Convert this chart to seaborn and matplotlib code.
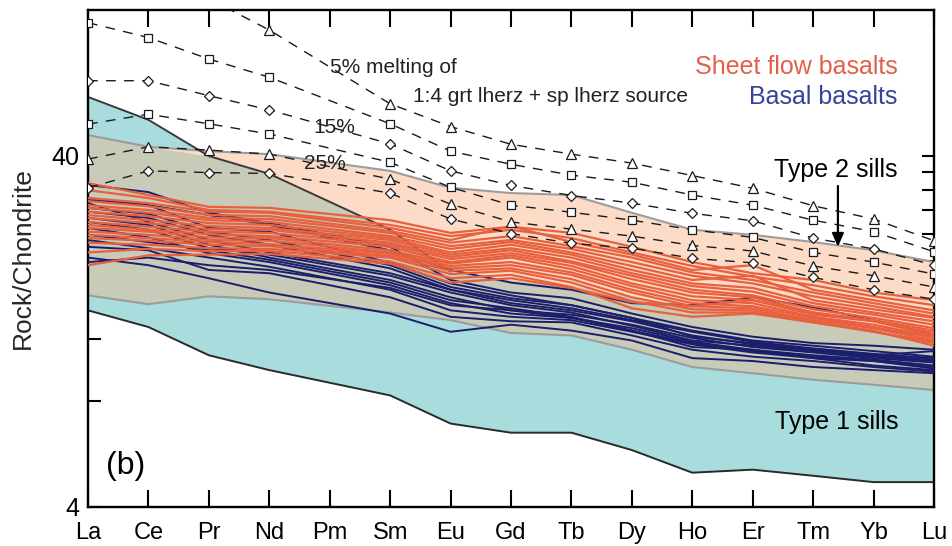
import numpy as np
import pandas as pd
import matplotlib
matplotlib.use("Agg")
import matplotlib.pyplot as plt
import seaborn as sns

# ---------- DATA (chondrite-normalised REE) ----------
elements = ["La", "Ce", "Pr", "Nd", "Pm", "Sm", "Eu", "Gd", "Tb", "Dy", "Ho", "Er", "Tm", "Yb", "Lu"]
measured = ["La", "Ce", "Pr", "Nd", "Sm", "Eu", "Gd", "Tb", "Dy", "Ho", "Er", "Tm", "Yb", "Lu"]

# melting model curves (5% ... 25% melting of 1:4 grt lherz + sp lherz source)
melt_tri_1 = [130.9, 120.1, 112.0, 91.2, 56.2, 48.4, 43.1, 40.4, 38.1, 35.1, 32.3, 28.8, 26.4, 22.9]
melt_sq_1 = [95.7, 86.8, 75.4, 66.9, 49.3, 41.2, 37.8, 35.2, 33.6, 30.9, 28.9, 26.2, 24.3, 21.3]
melt_dia_1 = [65.4, 65.4, 59.3, 54.0, 43.2, 36.2, 32.9, 30.8, 29.3, 27.4, 26.1, 23.3, 21.7, 19.5]
melt_sq_2 = [49.2, 52.5, 49.3, 46.1, 38.3, 32.5, 28.9, 27.6, 26.2, 24.6, 23.4, 21.2, 19.9, 18.4]
melt_tri_2 = [39.1, 42.4, 41.5, 40.4, 34.3, 29.1, 25.9, 24.7, 23.6, 22.2, 21.4, 19.4, 18.2, 16.9]
melt_dia_2 = [32.4, 36.2, 35.8, 35.6, 31.3, 26.4, 24.0, 22.5, 21.8, 20.4, 19.8, 18.0, 16.6, 15.6]

# Type 1 sills field (cyan) and Type 2 sills field (peach)
type1_high = [58.8, 50.6, 39.9, 35.5, 24.6, 18.7, 17.7, 17.1, 15.8, 15.0, 14.5, 13.8, 13.1, 12.3]
type1_low = [14.5, 13.0, 10.8, 9.8, 8.3, 6.9, 6.5, 6.5, 5.8, 5.0, 5.1, 4.9, 4.7, 4.7]
type2_high = [45.8, 42.4, 41.2, 40.4, 36.2, 32.4, 31.3, 30.9, 27.5, 24.6, 23.8, 22.7, 21.5, 19.9]
type2_low = [16.0, 15.1, 15.9, 15.6, 14.3, 13.6, 12.5, 12.3, 11.2, 10.0, 9.6, 9.2, 8.9, 8.6]

# Sheet flow basalts
sheet_flow = [
    [33.4, 30.9, 28.6, 28.4, 26.2, 24.1, 25.1, 24.1, 22.0, 19.9, 18.5, 17.7, 16.3, 15.5],
    [31.9, 30.3, 28.0, 27.7, 25.4, 23.6, 24.6, 23.3, 21.2, 19.4, 18.1, 17.1, 15.9, 15.0],
    [30.3, 29.3, 27.7, 27.5, 24.9, 23.0, 25.2, 22.7, 20.9, 18.9, 19.5, 16.6, 15.5, 14.5],
    [29.7, 28.7, 27.1, 26.9, 24.4, 22.6, 23.6, 22.1, 20.5, 18.6, 17.7, 16.3, 15.2, 14.2],
    [28.9, 28.0, 26.6, 26.4, 24.1, 22.1, 23.0, 21.7, 19.9, 18.2, 17.3, 15.9, 14.9, 13.9],
    [28.4, 27.5, 26.2, 25.9, 23.6, 21.7, 22.7, 21.2, 19.4, 17.7, 18.2, 15.5, 14.6, 13.8],
    [27.7, 26.9, 25.7, 25.4, 23.3, 21.2, 22.3, 20.9, 18.9, 17.3, 16.8, 15.2, 14.3, 13.5],
    [27.1, 26.2, 25.2, 24.9, 23.0, 20.9, 21.8, 20.5, 18.5, 17.0, 16.4, 14.9, 14.1, 13.2],
    [26.6, 25.7, 24.7, 24.6, 22.6, 20.6, 21.5, 20.0, 18.2, 16.6, 16.0, 14.6, 13.8, 12.9],
    [25.9, 25.1, 24.3, 24.1, 22.3, 20.3, 21.1, 19.8, 17.8, 16.3, 15.8, 14.3, 13.6, 12.7],
    [25.4, 24.6, 23.9, 23.6, 22.0, 19.9, 20.8, 19.4, 17.3, 15.9, 15.5, 14.1, 13.5, 12.5],
    [24.9, 24.3, 23.4, 23.3, 21.5, 19.7, 20.5, 19.0, 17.0, 15.5, 15.2, 13.9, 13.2, 12.2],
    [24.3, 23.8, 23.0, 22.9, 21.2, 19.4, 19.9, 18.6, 16.6, 15.2, 14.9, 13.8, 13.0, 12.1],
    [23.8, 23.3, 22.7, 22.4, 21.0, 19.1, 19.5, 18.3, 16.3, 14.9, 14.7, 13.6, 12.9, 11.9],
    [23.3, 22.9, 22.3, 22.1, 20.7, 18.8, 19.1, 17.8, 15.8, 14.6, 14.5, 13.5, 12.6, 11.8],
    [22.6, 22.3, 21.8, 21.7, 20.5, 18.4, 18.8, 17.4, 15.4, 14.3, 14.3, 13.4, 12.6, 11.7],
    [21.2, 21.7, 21.4, 21.4, 20.0, 17.9, 18.3, 16.9, 14.7, 13.9, 14.2, 13.4, 12.7, 11.5],
    [19.5, 20.8, 20.9, 21.0, 19.7, 17.4, 17.9, 16.8, 15.3, 14.9, 15.5, 14.3, 13.5, 12.3],
]

# Basal basalts
basal = [
    [33.0, 31.5, 27.5, 25.7, 22.0, 17.7, 16.3, 15.7, 14.2, 13.0, 12.2, 11.7, 11.5, 11.2],
    [30.3, 28.9, 24.9, 24.3, 19.8, 17.3, 16.0, 15.0, 13.8, 12.7, 11.9, 11.5, 11.1, 10.7],
    [29.3, 25.9, 23.0, 21.2, 18.5, 16.6, 15.2, 14.5, 13.5, 12.3, 11.6, 11.1, 10.8, 10.5],
    [26.6, 25.4, 22.3, 20.5, 17.7, 15.8, 14.5, 14.1, 13.2, 12.1, 11.4, 11.0, 10.6, 10.3],
    [24.9, 23.4, 21.1, 19.9, 17.1, 15.2, 14.2, 13.8, 12.9, 11.8, 11.2, 10.8, 10.5, 10.1],
    [23.0, 21.8, 20.5, 19.3, 16.6, 14.5, 13.9, 13.6, 12.6, 11.6, 11.0, 10.6, 10.4, 9.9],
    [22.0, 21.5, 18.9, 18.5, 15.8, 13.9, 13.5, 13.4, 12.3, 11.2, 10.7, 10.4, 10.0, 9.7],
    [20.5, 19.5, 17.9, 16.3, 14.2, 12.6, 13.2, 12.7, 11.9, 10.6, 10.4, 10.0, 9.8, 9.6],
    [19.9, 20.5, 19.5, 18.9, 16.8, 15.0, 14.5, 13.8, 12.7, 11.4, 11.2, 10.6, 10.1, 9.8],
    [27.7, 26.6, 23.8, 22.3, 19.1, 16.6, 15.5, 14.7, 13.6, 12.6, 11.8, 11.3, 10.9, 10.6],
    [25.9, 24.6, 21.8, 20.9, 18.2, 16.3, 15.0, 14.3, 13.1, 11.9, 11.5, 11.1, 10.7, 10.4],
    [29.9, 28.9, 27.1, 25.4, 21.5, 18.9, 17.4, 16.6, 15.2, 15.0, 15.8, 14.8, 13.6, 12.3],
    [28.4, 27.3, 24.3, 23.0, 19.5, 16.9, 15.7, 15.0, 13.8, 12.2, 11.7, 11.2, 10.8, 11.1],
    [23.8, 22.7, 21.5, 20.2, 17.4, 15.5, 14.7, 13.9, 12.7, 11.7, 11.1, 10.7, 10.4, 10.0],
]

# ---------- STYLE ----------
sns.set_style("ticks")
plt.rcParams["font.family"] = ["Liberation Sans", "DejaVu Sans"]

RED = "#E8603E"
NAVY = "#1B1E6C"
CYAN = "#A9DCDD"
PEACH = "#FCDCC6"
OVERLAP = "#C8CBB8"

xpos = {e: i for i, e in enumerate(elements)}
xs = np.array([xpos[e] for e in measured])


def to_long(rows, name):
    recs = []
    for k, row in enumerate(rows):
        for e, v in zip(measured, row):
            recs.append({"sample": f"{name}{k}", "x": xpos[e], "ratio": v})
    return pd.DataFrame(recs)


df_sheet = to_long(sheet_flow, "s")
df_basal = to_long(basal, "b")

fig = plt.figure(figsize=(9.53, 5.46), dpi=100)
ax = fig.add_axes([88 / 953, 39.3 / 546, 846 / 953, 496.7 / 546])
ax.set_yscale("log")

# ---------- FIELDS ----------
t1h, t1l = np.array(type1_high), np.array(type1_low)
t2h, t2l = np.array(type2_high), np.array(type2_low)
ax.fill_between(xs, t1l, t1h, color=CYAN, lw=0, zorder=1)
ax.fill_between(xs, t2l, t2h, color=PEACH, lw=0, zorder=1)
ov_lo, ov_hi = np.maximum(t1l, t2l), np.minimum(t1h, t2h)
ax.fill_between(xs, ov_lo, ov_hi, where=ov_hi > ov_lo, interpolate=True,
                color=OVERLAP, lw=0, zorder=1.5)
ax.plot(xs, t2h, color="#9c9c9c", lw=1.5, zorder=2)
ax.plot(xs, t2l, color="#9c9c9c", lw=1.5, zorder=2)
ax.plot(xs, t1l, color="#2a2a2a", lw=1.4, zorder=2)
ax.plot(xs[:6], t1h[:6], color="#3a3a3a", lw=1.4, zorder=2)

# ---------- SAMPLES ----------
sns.lineplot(data=df_basal, x="x", y="ratio", units="sample", estimator=None,
             color=NAVY, lw=1.4, ax=ax, legend=False, zorder=3)
sns.lineplot(data=df_sheet, x="x", y="ratio", units="sample", estimator=None,
             color=RED, lw=1.6, ax=ax, legend=False, zorder=4)

# ---------- MELTING MODELS ----------
for vals, mk, ms in [(melt_tri_1, "^", 7), (melt_sq_1, "s", 6), (melt_dia_1, "D", 5),
                     (melt_sq_2, "s", 6), (melt_tri_2, "^", 7), (melt_dia_2, "D", 5)]:
    sns.lineplot(x=xs, y=vals, ax=ax, color="#1a1a1a", lw=1.0, linestyle=(0, (7, 6)),
                 marker=mk, markersize=ms, markerfacecolor="white",
                 markeredgecolor="#1a1a1a", markeredgewidth=0.9, zorder=5)

# ---------- AXES ----------
ax.set_xlim(0, 14)
ax.set_ylim(4, 104)
ax.set_xticks(range(len(elements)))
ax.set_xticklabels(elements, fontsize=17)
yt = list(range(4, 41, 4))
ax.yaxis.set_major_locator(matplotlib.ticker.FixedLocator(yt))
ax.yaxis.set_minor_locator(matplotlib.ticker.NullLocator())
ax.set_yticklabels(["4" if t == 4 else "40" if t == 40 else "" for t in yt], fontsize=18)
ax.tick_params(axis="both", direction="in", top=True, right=True, width=1.5, colors="black")
ax.tick_params(axis="x", length=12, pad=11)
ax.tick_params(axis="y", length=9, pad=6)
for sp in ax.spines.values():
    sp.set_linewidth(1.7)
    sp.set_color("black")
ax.set_xlabel("")
ax.set_ylabel("Rock/Chondrite", fontsize=19, labelpad=12)

# ---------- TEXT ----------
ax.text(5.06, 71.1, "5% melting of", fontsize=15, ha="center", va="center", color="#222222", zorder=6)
ax.text(7.66, 58.9, "1:4 grt lherz + sp lherz source", fontsize=15, ha="center", va="center",
        color="#222222", zorder=6)
ax.text(4.07, 48.0, "15%", fontsize=15, ha="center", va="center", color="#222222", zorder=6)
ax.text(3.92, 38.1, "25%", fontsize=15, ha="center", va="center", color="#222222", zorder=6)
ax.text(13.40, 71.7, "Sheet flow basalts", fontsize=18, ha="right", va="center", color="#E2604A")
ax.text(13.40, 58.9, "Basal basalts", fontsize=18, ha="right", va="center", color="#34449A")
ax.text(12.38, 36.4, "Type 2 sills", fontsize=18, ha="center", va="center", color="black")
ax.text(12.39, 6.98, "Type 1 sills", fontsize=18, ha="center", va="center", color="black")
ax.text(0.63, 5.22, "(b)", fontsize=23, ha="center", va="center", color="black")
ax.annotate("", xy=(12.41, 22.0), xytext=(12.41, 32.8),
            arrowprops=dict(arrowstyle="-|>,head_length=0.8,head_width=0.35", color="black",
                            lw=1.6, shrinkA=0, shrinkB=0), zorder=6)

fig.savefig("out.png", dpi=100)
